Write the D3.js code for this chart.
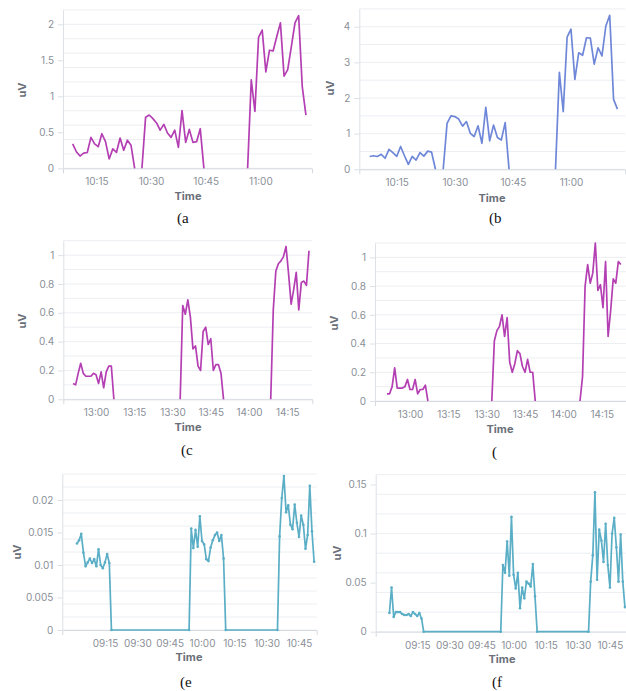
<!DOCTYPE html>
<html><head><meta charset="utf-8">
<script src="https://cdn.jsdelivr.net/npm/d3@7"></script>
<style>body{margin:0;background:#fff}svg{display:block}</style>
</head><body>
<svg id="chart" width="626" height="691"></svg>
<script>
// ---------- DATA (1-minute samples; each segment starts at the given time) ----------
const aStarts = ["10:08:30", "10:27:30", "10:56:30"];
const aValues = [
  [0.34,0.23,0.17,0.21,0.22,0.43,0.34,0.30,0.48,0.37,0.13,0.27,0.22,0.42,0.25,0.39,0.32,0],
  [0,0.71,0.74,0.69,0.63,0.53,0.61,0.49,0.43,0.53,0.29,0.80,0.36,0.54,0.36,0.37,0.55,0],
  [0,1.23,0.79,1.82,1.92,1.34,1.64,1.63,1.83,2.02,1.28,1.37,1.69,2.02,2.12,1.13,0.74]
];
const bStarts = ["10:08:00", "10:27:00", "10:56:00"];
const bValues = [
  [0.36,0.38,0.36,0.42,0.31,0.56,0.47,0.36,0.64,0.38,0.14,0.36,0.26,0.47,0.37,0.51,0.48,0],
  [0,1.29,1.50,1.48,1.41,1.21,1.34,1.01,0.92,1.22,0.73,1.74,0.80,1.24,0.89,0.82,1.31,0],
  [0,2.72,1.62,3.71,3.93,2.52,3.27,3.20,3.69,3.68,2.95,3.41,3.18,4.02,4.32,1.96,1.69]
];
const cStarts = ["12:51:00", "13:33:00", "14:08:30"];
const cValues = [
  [0.11,0.10,0.18,0.25,0.18,0.16,0.16,0.16,0.18,0.17,0.11,0.19,0.08,0.19,0.23,0.23,0],
  [0,0.65,0.59,0.69,0.57,0.35,0.37,0.23,0.20,0.47,0.50,0.38,0.42,0.20,0.24,0.24,0.18,0],
  [0,0.62,0.89,0.94,0.96,0.99,1.06,0.87,0.66,0.76,0.88,0.62,0.81,0.82,0.79,1.03]
];
const dStarts = ["12:51:00", "13:32:00", "14:06:30"];
const dValues = [
  [0.05,0.05,0.10,0.23,0.09,0.09,0.09,0.10,0.15,0.08,0.08,0.15,0.05,0.08,0.08,0.11,0],
  [0,0.42,0.49,0.52,0.60,0.45,0.58,0.27,0.20,0.26,0.35,0.33,0.24,0.20,0.29,0.20,0.20,0],
  [0,0.17,0.80,0.95,0.82,0.89,1.10,0.77,0.81,0.65,0.97,0.45,0.63,0.85,0.82,0.97,0.95]
];
const eStarts = ["09:02:00", "09:54:00", "10:35:00"];
const eValues = [
  [0.0133,0.0138,0.0148,0.0119,0.0098,0.0104,0.0110,0.0103,0.0109,0.0098,0.0124,0.0100,0.0095,0.0104,0.0117,0.0103,0],
  [0,0.0156,0.0126,0.0154,0.0128,0.0175,0.0137,0.0132,0.0109,0.0106,0.0127,0.0138,0.0146,0.0150,0.0137,0.0146,0.0110,0],
  [0,0.0144,0.0203,0.0237,0.0181,0.0192,0.0162,0.0155,0.0193,0.0165,0.0143,0.0176,0.0162,0.0125,0.0146,0.0222,0.0152,0.0105]
];
const fStarts = ["09:02:00", "09:54:00", "10:35:00"];
const fValues = [
  [0.019,0.045,0.015,0.020,0.020,0.020,0.018,0.017,0.017,0.018,0.016,0.020,0.018,0.016,0.019,0.0135,0],
  [0,0.068,0.060,0.092,0.057,0.117,0.058,0.044,0.060,0.024,0.045,0.034,0.051,0.049,0.046,0.069,0.036,0],
  [0,0.051,0.078,0.142,0.053,0.104,0.093,0.071,0.110,0.068,0.045,0.100,0.116,0.086,0.051,0.099,0.051,0.025]
];

// tick labels
const abXTicks = ["10:15", "10:30", "10:45", "11:00"];
const cdXTicks = ["13:00", "13:15", "13:30", "13:45", "14:00", "14:15"];
const efXTicks = ["09:15", "09:30", "09:45", "10:00", "10:15", "10:30", "10:45"];
const aYTicks = [0, 0.5, 1, 1.5, 2];
const bYTicks = [0, 1, 2, 3, 4];
const cdYTicks = [0, 0.2, 0.4, 0.6, 0.8, 1];
const eYTicks = [0, 0.005, 0.01, 0.015, 0.02];
const fYTicks = [0, 0.05, 0.1, 0.15];
const captions = ["(a", "(b", "(c", "(", "(e", "(f"];

// ---------- RENDER ----------
const svg = d3.select("#chart");
const parseT = s => d3.utcParse(s.length > 5 ? "%H:%M:%S" : "%H:%M")(s);
const fmtT = d3.utcFormat("%H:%M");
const FONT = "Inter, 'Open Sans', sans-serif";

function buildSegments(starts, values) {
  return values.map((vals, i) => {
    const t0 = parseT(starts[i]);
    return vals.map((v, k) => ({ t: d3.utcMinute.offset(t0, k), v }));
  });
}

function drawPanel(cfg) {
  const g = svg.append("g");
  const x = d3.scaleUtc().domain(cfg.xDomain.map(parseT)).range([cfg.left, cfg.right]);
  const y = d3.scaleLinear().domain([0, cfg.yMax]).range([cfg.bottom, cfg.top]);

  // horizontal grid
  const grid = d3.range(0, cfg.yMax + cfg.gridStep / 2, cfg.gridStep);
  g.append("g").selectAll("line").data(grid).join("line")
    .attr("x1", cfg.left).attr("x2", cfg.right)
    .attr("y1", d => y(d)).attr("y2", d => y(d))
    .attr("stroke", "#eceef2").attr("stroke-width", 1);

  // y axis
  const yg = g.append("g").attr("transform", `translate(${cfg.left},0)`)
    .call(d3.axisLeft(y).tickValues(cfg.yTicks).tickFormat(d3.format("~g"))
      .tickSizeInner(5).tickSizeOuter(0).tickPadding(4));
  yg.select(".domain").attr("stroke", "#dde1e6");
  yg.selectAll(".tick line").attr("stroke", "#dde1e6");
  yg.selectAll(".tick text").attr("fill", "#8a8f98").style("font", `10px ${FONT}`);

  // x axis
  const xg = g.append("g").attr("transform", `translate(0,${cfg.bottom})`)
    .call(d3.axisBottom(x).tickValues(cfg.xTicks.map(parseT)).tickFormat(fmtT)
      .tickSizeInner(0).tickSizeOuter(5).tickPadding(10));
  xg.select(".domain").attr("stroke", "#d6dae0");
  xg.selectAll(".tick text").attr("fill", "#8a8f98").style("font", `10px ${FONT}`);

  // series
  const segs = buildSegments(cfg.starts, cfg.values);
  const line = d3.line().x(d => x(d.t)).y(d => y(d.v));
  const parts = cfg.connect ? [segs.flat()] : segs;
  g.append("g").selectAll("path").data(parts).join("path")
    .attr("d", line).attr("fill", "none")
    .attr("stroke", cfg.color).attr("stroke-width", 1.7)
    .attr("stroke-linejoin", "round");
  if (cfg.dots) {
    g.append("g").selectAll("circle").data(segs.flat()).join("circle")
      .attr("cx", d => x(d.t)).attr("cy", d => y(d.v)).attr("r", 1.3)
      .attr("fill", cfg.color);
  }

  // axis titles
  g.append("text").text("Time")
    .attr("x", cfg.timeX).attr("y", cfg.timeY).attr("text-anchor", "middle")
    .attr("fill", "#6a6f79").style("font", `bold 11px ${FONT}`);
  g.append("text").text("uV")
    .attr("transform", `translate(${cfg.uvX},${cfg.uvY}) rotate(-90)`)
    .attr("text-anchor", "middle").attr("dy", "0.35em")
    .attr("fill", "#6a6f79").style("font", `bold 11px ${FONT}`);
  // caption
  g.append("text").text(cfg.caption)
    .attr("x", cfg.capX).attr("y", cfg.capY)
    .attr("fill", "#111").style("font", `15px 'Liberation Serif', serif`);
}

const MAG = "#b43fb3", BLUE = "#6f87d8", TEAL = "#5aaec6";

drawPanel({ starts: aStarts, values: aValues, xTicks: abXTicks, yTicks: aYTicks,
  xDomain: ["10:05:50", "11:14:10"], left: 63, right: 312, top: 9.9, bottom: 168.3,
  yMax: 2.2, gridStep: 0.2, color: MAG, timeX: 188, timeY: 200, uvX: 22, uvY: 90,
  caption: captions[0], capX: 177, capY: 223 });
drawPanel({ starts: bStarts, values: bValues, xTicks: abXTicks, yTicks: bYTicks,
  xDomain: ["10:05:20", "11:14:00"], left: 359.3, right: 625.2, top: 8.9, bottom: 169.3,
  yMax: 4.5, gridStep: 0.5, color: BLUE, timeX: 492, timeY: 202, uvX: 330, uvY: 88,
  caption: captions[1], capX: 489, capY: 223 });
drawPanel({ starts: cStarts, values: cValues, xTicks: cdXTicks, yTicks: cdYTicks,
  xDomain: ["12:47:10", "14:24:48"], left: 63.3, right: 312.3, top: 240.7, bottom: 399.3,
  yMax: 1.1, gridStep: 0.1, color: MAG, timeX: 188, timeY: 431, uvX: 22, uvY: 321,
  caption: captions[2], capX: 181, capY: 455 });
drawPanel({ starts: dStarts, values: dValues, xTicks: cdXTicks, yTicks: cdYTicks,
  xDomain: ["12:46:18", "14:24:30"], left: 375, right: 626, top: 243, bottom: 401,
  yMax: 1.1, gridStep: 0.1, color: MAG, timeX: 500, timeY: 433, uvX: 334, uvY: 323,
  caption: captions[3], capX: 492, capY: 457 });
drawPanel({ starts: eStarts, values: eValues, xTicks: efXTicks, yTicks: eYTicks,
  xDomain: ["08:55:12", "10:53:12"], left: 62.3, right: 316.7, top: 474, bottom: 630,
  yMax: 0.024, gridStep: 0.002, color: TEAL, connect: true, dots: true,
  timeX: 189, timeY: 661, uvX: 17, uvY: 552, caption: captions[4], capX: 180, capY: 687 });
drawPanel({ starts: fStarts, values: fValues, xTicks: efXTicks, yTicks: fYTicks,
  xDomain: ["08:55:36", "10:52:30"], left: 375.7, right: 626, top: 474.7, bottom: 631.7,
  yMax: 0.16, gridStep: 0.02, color: TEAL, connect: true, dots: true,
  timeX: 502, timeY: 663, uvX: 337, uvY: 553, caption: captions[5], capX: 492, capY: 687 });
</script>
</body></html>
